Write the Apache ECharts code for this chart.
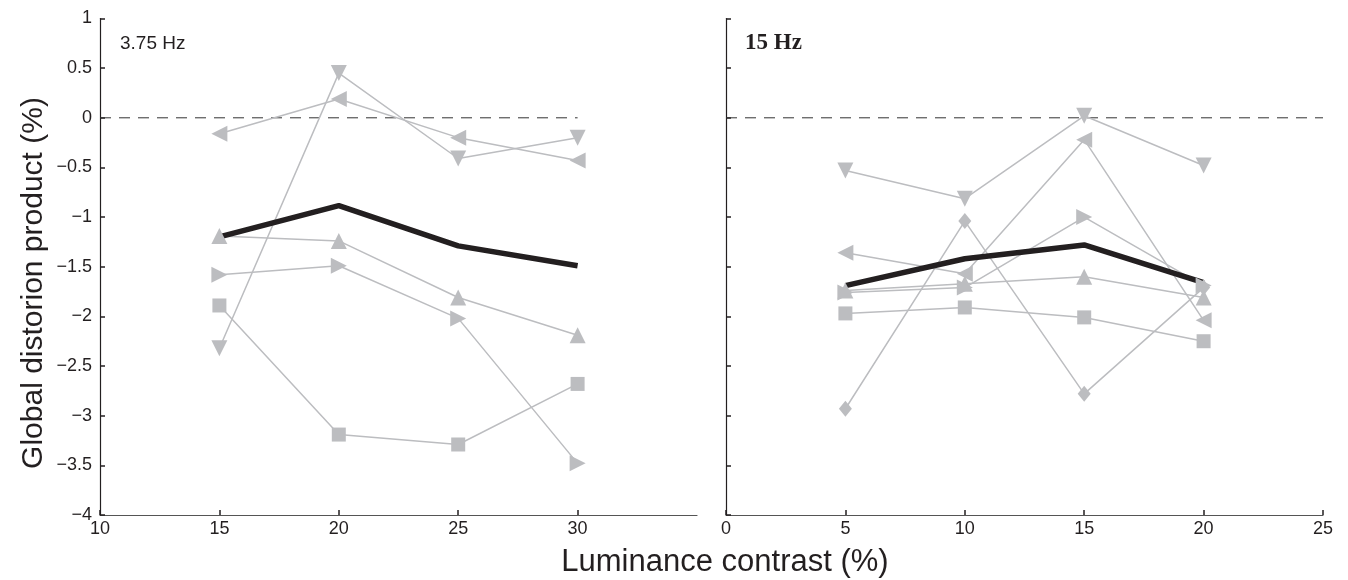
<!DOCTYPE html>
<html>
<head>
<meta charset="utf-8">
<script src="https://cdn.jsdelivr.net/npm/echarts@6/dist/echarts.min.js"></script>
<style>html,body{margin:0;padding:0;background:#fff}#c{width:1348px;height:580px}</style>
</head>
<body>
<div id="c"></div>
<script>
// ---- data ----
const xLeft = [15, 20, 25, 30];
const xRight = [5, 10, 15, 20];
const leftTicks = [10, 15, 20, 25, 30];
const rightTicks = [0, 5, 10, 15, 20, 25];

// 3.75 Hz panel
const leftDown   = [-2.32, 0.45, -0.41, -0.20];
const leftLeft   = [-0.16, 0.19, -0.20, -0.43];
const leftUp     = [-1.19, -1.24, -1.81, -2.19];
const leftRight  = [-1.58, -1.49, -2.02, -3.48];
const leftSquare = [-1.89, -3.19, -3.29, -2.68];
const leftMean   = [-1.20, -0.885, -1.29, -1.49];

// 15 Hz panel
const rightDown    = [-0.53, -0.815, 0.02, -0.48];
const rightDiamond = [-2.93, -1.04, -2.78, -1.71];
const rightLeft    = [-1.36, -1.57, -0.22, -2.04];
const rightRight   = [-1.76, -1.71, -1.00, -1.69];
const rightUp      = [-1.74, -1.67, -1.60, -1.81];
const rightSquare  = [-1.97, -1.91, -2.01, -2.25];
const rightMean    = [-1.69, -1.42, -1.28, -1.66];

const zeroLeft = [10, 30];
const zeroRight = [0, 25];

// ---- styling ----
const GRAY = '#bcbdc0';
const DARK = '#231f20';
const SANS = 'Liberation Sans, Arial, sans-serif';
const pair = (xs, ys) => xs.map((x, i) => [x, ys[i]]);

function grayLine(idx, xs, ys, symbol, rotate, size) {
  return {
    type: 'line', xAxisIndex: idx, yAxisIndex: idx,
    data: pair(xs, ys), symbol: symbol, symbolRotate: rotate, symbolSize: size,
    showSymbol: true, animation: false, silent: true,
    lineStyle: {color: GRAY, width: 1.5},
    itemStyle: {color: GRAY, borderWidth: 0}
  };
}
function meanLine(idx, xs, ys) {
  return {
    type: 'line', xAxisIndex: idx, yAxisIndex: idx,
    data: pair(xs, ys), symbol: 'none', animation: false, silent: true,
    lineStyle: {color: DARK, width: 5.5}
  };
}
function zeroLine(idx, xs) {
  return {
    type: 'line', xAxisIndex: idx, yAxisIndex: idx,
    data: xs.map(x => [x, 0]), symbol: 'none', animation: false, silent: true,
    lineStyle: {color: '#333', width: 1, type: [11, 8]}
  };
}

const labelFont = {color: DARK, fontSize: 18, fontFamily: SANS};

function xAxis(idx, min, max, ticks) {
  return {
    type: 'value', gridIndex: idx, min: min, max: max, interval: 5,
    axisLine: {show: true, onZero: false, lineStyle: {color: '#555', width: 1.2}},
    axisTick: {show: true, inside: true, length: 5, lineStyle: {color: DARK, width: 1.5}, customValues: ticks},
    axisLabel: Object.assign({margin: 5, customValues: ticks}, labelFont),
    splitLine: {show: false}
  };
}
function yAxis(idx, showLabels) {
  return {
    type: 'value', gridIndex: idx, min: -4, max: 1, interval: 0.5,
    axisLine: {show: true, onZero: false, lineStyle: {color: DARK, width: 1.2}},
    axisTick: {show: true, inside: true, length: 5, lineStyle: {color: DARK, width: 1.5}},
    axisLabel: Object.assign({show: showLabels, margin: 8, formatter: v => String(v).replace('-', '\u2212')}, labelFont),
    splitLine: {show: false}
  };
}

const chart = echarts.init(document.getElementById('c'), null, {renderer: 'canvas'});
chart.setOption({
  backgroundColor: '#fff',
  animation: false,
  grid: [
    {left: 100, top: 18.5, width: 597, height: 496.5},
    {left: 726, top: 18.5, width: 597, height: 496.5}
  ],
  xAxis: [xAxis(0, 10, 35, leftTicks), xAxis(1, 0, 25, rightTicks)],
  yAxis: [yAxis(0, true), yAxis(1, false)],
  series: [
    zeroLine(0, zeroLeft),
    grayLine(0, xLeft, leftDown, 'triangle', 180, 16),
    grayLine(0, xLeft, leftLeft, 'triangle', 90, 16),
    grayLine(0, xLeft, leftUp, 'triangle', 0, 16),
    grayLine(0, xLeft, leftRight, 'triangle', -90, 16),
    grayLine(0, xLeft, leftSquare, 'rect', 0, 14),
    meanLine(0, xLeft, leftMean),
    zeroLine(1, zeroRight),
    grayLine(1, xRight, rightDown, 'triangle', 180, 16),
    grayLine(1, xRight, rightDiamond, 'diamond', 0, [13, 16]),
    grayLine(1, xRight, rightLeft, 'triangle', 90, 16),
    grayLine(1, xRight, rightRight, 'triangle', -90, 16),
    grayLine(1, xRight, rightUp, 'triangle', 0, 16),
    grayLine(1, xRight, rightSquare, 'rect', 0, 14),
    meanLine(1, xRight, rightMean)
  ],
  graphic: [
    {type: 'text', x: 120, y: 44, style: {text: '3.75 Hz', fill: DARK, fontSize: 19, fontFamily: SANS, align: 'left', verticalAlign: 'middle'}},
    {type: 'text', x: 745, y: 43, style: {text: '15 Hz', fill: DARK, fontSize: 23, fontWeight: 'bold', fontFamily: 'Liberation Serif, Times New Roman, serif', align: 'left', verticalAlign: 'middle'}},
    {type: 'text', x: 34, y: 283, rotation: Math.PI / 2,
      style: {text: 'Global distorion product (%)', fill: DARK, fontSize: 30, fontFamily: SANS, align: 'center', verticalAlign: 'middle'}},
    {type: 'text', x: 725, y: 562,
      style: {text: 'Luminance contrast (%)', fill: DARK, fontSize: 31, fontFamily: SANS, align: 'center', verticalAlign: 'middle'}}
  ]
});
</script>
</body>
</html>
